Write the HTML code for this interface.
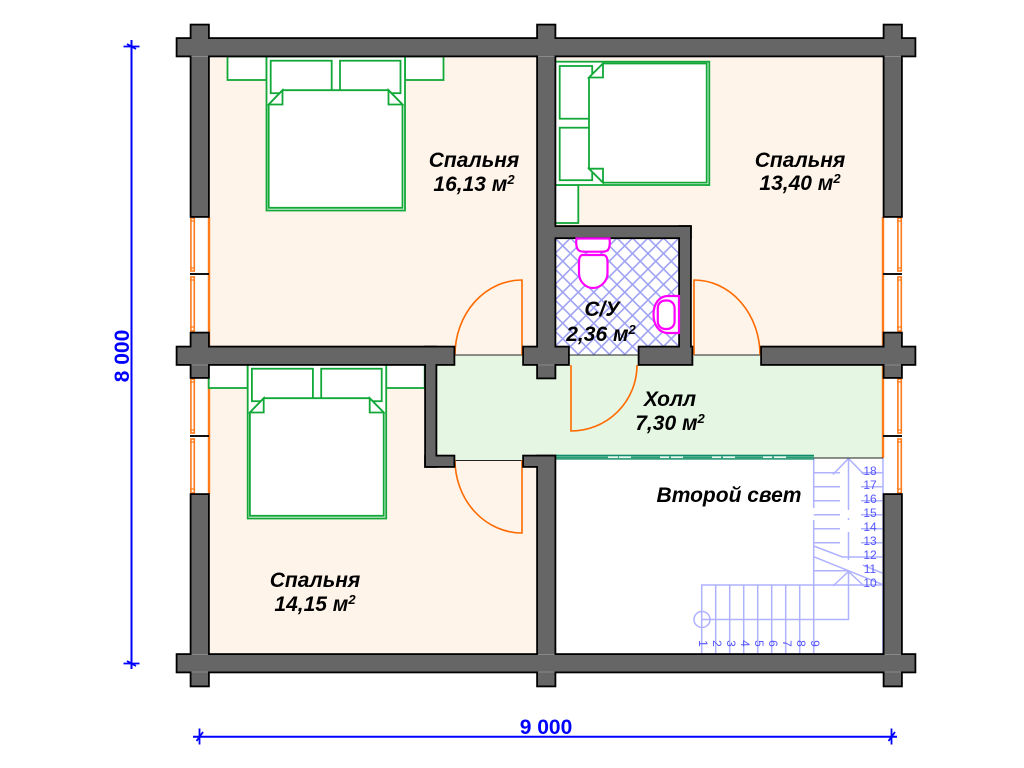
<!DOCTYPE html>
<html>
<head>
<meta charset="utf-8">
<style>
html,body{margin:0;padding:0;background:#fff;width:1024px;height:768px;overflow:hidden}
svg{display:block}
text{font-family:"Liberation Sans",sans-serif}
.lbl{font-size:21px;font-weight:bold;font-style:italic;fill:#000;text-anchor:middle}
.sup{font-size:13px}
.dim{font-size:21px;font-weight:bold;fill:#0000ff;text-anchor:middle}
.n{font-size:12px;fill:#5555ff;text-anchor:middle}
.bed{fill:#fff;stroke:#12a838;stroke-width:1.8}
.door{fill:none;stroke:#ff6a00;stroke-width:1.6}
.win{fill:#fff;stroke:#ff7a1a;stroke-width:1.6}
.st{fill:none;stroke:#aeb2ff;stroke-width:1.5}
</style>
</head>
<body>
<svg width="1024" height="768" viewBox="0 0 1024 768" xmlns="http://www.w3.org/2000/svg">
<defs>
<pattern id="h" width="15.5" height="15.5" patternUnits="userSpaceOnUse" patternTransform="translate(555 238)">
<rect width="15.5" height="15.5" fill="#fff"/>
<path d="M-1 -1L16.5 16.5M-1 16.5L16.5 -1" stroke="#a0a3f4" stroke-width="1.6"/>
</pattern>
<g id="bedv">
<rect class="bed" x="227.5" y="56.5" width="39" height="23.5"/>
<rect class="bed" x="405" y="56.5" width="38.5" height="23.5"/>
<rect class="bed" x="266.5" y="56.5" width="138.5" height="154"/>
<rect class="bed" x="270.7" y="60.7" width="61" height="32.5"/>
<rect class="bed" x="340" y="60.7" width="60.5" height="32.5"/>
<path class="bed" d="M268.7 104.5L282.5 90.2H388.5L402.5 104.5V207.8H268.7Z"/>
<path class="bed" d="M268.7 104.5L282.5 90.2V104.5Z"/>
<path class="bed" d="M402.5 104.5L388.5 90.2V104.5Z"/>
</g>
<g id="walls">
<rect x="177.5" y="39" width="737" height="16.5"/>
<rect x="177.5" y="655" width="737" height="16.5"/>
<rect x="191.5" y="25.5" width="16.5" height="190.5"/>
<rect x="191.5" y="333.5" width="16.5" height="43.5"/>
<rect x="191.5" y="495" width="16.5" height="190.5"/>
<rect x="177.5" y="347.5" width="276" height="16.5"/>
<rect x="538" y="25.5" width="16.5" height="352"/>
<rect x="524" y="347.5" width="44" height="16.5"/>
<rect x="538" y="456.5" width="16.5" height="229"/>
<rect x="524" y="456.5" width="30" height="9.5"/>
<rect x="884.5" y="25.5" width="16.5" height="190.5"/>
<rect x="884.5" y="333.5" width="16.5" height="43.5"/>
<rect x="884.5" y="495" width="16.5" height="190.5"/>
<rect x="762" y="347.5" width="152.5" height="16.5"/>
<rect x="550" y="227" width="140" height="10.3"/>
<rect x="680" y="227" width="10" height="125"/>
<rect x="639.5" y="347.5" width="52" height="16.5"/>
<rect x="426" y="347.5" width="9.5" height="118.5"/>
<rect x="426" y="456.5" width="27.5" height="9.5"/>
</g>
</defs>

<!-- room fills -->
<rect x="209" y="56" width="327" height="299" fill="#fff4e9"/>
<rect x="555" y="56" width="328" height="299" fill="#fff4e9"/>
<rect x="209" y="365" width="327" height="289" fill="#fff4e9"/>
<rect x="436" y="355" width="447" height="103" fill="#e5f6e3"/>
<rect x="436" y="455" width="100" height="5.5" fill="#e5f6e3"/>
<rect x="555" y="238" width="124" height="117" fill="url(#h)"/>
<rect x="555" y="458" width="328" height="196" fill="#fff"/>

<!-- window openings -->
<g>
<rect x="190" y="217" width="19" height="115" fill="#fff"/>
<rect x="190" y="378" width="19" height="116" fill="#fff"/>
<rect x="883" y="217" width="19" height="115" fill="#fff"/>
<rect x="883" y="378" width="19" height="116" fill="#fff"/>
<path d="M209 217V346M209 365V494M883 217V346M883 365V458" stroke="#ff7a1a" stroke-width="2.4" fill="none"/>
<rect class="win" x="190.9" y="218" width="3.4" height="53"/><rect class="win" x="190.9" y="277" width="3.4" height="54"/>
<rect class="win" x="190.9" y="379" width="3.4" height="54"/><rect class="win" x="190.9" y="439" width="3.4" height="54"/>
<rect class="win" x="897.9" y="218" width="3.4" height="53"/><rect class="win" x="897.9" y="277" width="3.4" height="54"/>
<rect class="win" x="897.9" y="379" width="3.4" height="54"/><rect class="win" x="897.9" y="439" width="3.4" height="54"/>
<path d="M190 221H195M190 268H195M190 280H195M190 327H195M190 382H195M190 430H195M190 442H195M190 489H195M897 221H902M897 268H902M897 280H902M897 327H902M897 382H902M897 430H902M897 442H902M897 489H902" stroke="#ff7a1a" stroke-width="1.2"/>
<path d="M190 274H209M190 436H209M883 274H902M883 436H902" stroke="#111" stroke-width="2"/>
</g>

<!-- stairs -->
<g class="st">
<path d="M701.7 585H883V654H701.7Z"/>
<path d="M715.7 585V654M729.7 585V654M743.7 585V654M757.7 585V654M771.7 585V654M785.7 585V654M799.7 585V654M813.7 458V508M813.7 520V654"/>
<circle cx="702" cy="619.5" r="8"/>
<path d="M702 619.5H848.5V571.5M833 586L848.5 571.5L864 586"/>
<path d="M833 474.5L848.5 458.5L864 474.5M848.5 458.5V510M848.5 518V520M848.5 532V560"/>
<path d="M813.7 472.7H840M813.7 486.7H840M813.7 500.7H840M813.7 514.7H840M813.7 528.7H840M813.7 542.7H840M813.7 570.7H848"/>
<path d="M861 472.7H883M861 486.7H883M861 500.7H883M861 514.7H883M861 528.7H883M861 542.7H883"/>
<path d="M813.7 546L842.5 557H883M813.7 556.7L883 584.7M862.7 565L883 573.3"/>
<path d="M883 458V654"/>
</g>
<g>
<text class="n" x="870" y="475">18</text><text class="n" x="870" y="489">17</text><text class="n" x="870" y="503">16</text>
<text class="n" x="870" y="517">15</text><text class="n" x="870" y="531">14</text><text class="n" x="870" y="545">13</text>
<text class="n" x="870" y="559">12</text><text class="n" x="870" y="573">11</text><text class="n" x="870" y="587">10</text>
<text class="n" transform="translate(699 643.5) rotate(90)">1</text>
<text class="n" transform="translate(713 643.5) rotate(90)">2</text>
<text class="n" transform="translate(727 643.5) rotate(90)">3</text>
<text class="n" transform="translate(741 643.5) rotate(90)">4</text>
<text class="n" transform="translate(755 643.5) rotate(90)">5</text>
<text class="n" transform="translate(769 643.5) rotate(90)">6</text>
<text class="n" transform="translate(783 643.5) rotate(90)">7</text>
<text class="n" transform="translate(797 643.5) rotate(90)">8</text>
<text class="n" transform="translate(811 643.5) rotate(90)">9</text>
</g>

<!-- beds -->
<use href="#bedv"/>
<use href="#bedv" transform="translate(-18.8 308)"/>
<rect class="bed" x="555" y="185" width="23.3" height="38"/>
<rect class="bed" x="555" y="61.7" width="154.3" height="123.3"/>
<rect class="bed" x="559.7" y="66" width="32.5" height="52.7"/>
<rect class="bed" x="559.7" y="127.7" width="32.5" height="52.5"/>
<path class="bed" d="M589 77.5L603 63.5H706.7V182.6H603L589 168.7Z"/>
<path class="bed" d="M589 77.5L603 63.5V77.5Z"/>
<path class="bed" d="M589 168.7H603V182.6Z"/>

<!-- sills and doors -->
<path d="M455 355H522M569 355H638M694 355H760M455 460.5H522M814 458H883" stroke="#222" stroke-width="1.1"/>
<path class="door" d="M522 355V280A67 75 0 0 0 455 355"/>
<path class="door" d="M522 460V533A67 73 0 0 1 455 460"/>
<path class="door" d="M571 365V431A66 66 0 0 0 637 365"/>
<path class="door" d="M694 355V280A66 75 0 0 1 760 355"/>

<!-- glass partition -->
<rect x="555" y="454.5" width="259" height="5" fill="#7cc8a6"/>
<path d="M555 455.5H814M555 459H814" stroke="#0f8a68" stroke-width="1.2"/>
<path d="M555 457.2H814" stroke="#0f8a68" stroke-width="1"/>
<path d="M608 457.2H618M619 457.2H631M660 457.2H669M671 457.2H683M712 457.2H721M723 457.2H735M763 457.2H772M774 457.2H786" stroke="#fff" stroke-width="1.4"/>

<!-- walls -->
<use href="#walls" fill="#000" stroke="#000" stroke-width="3.6"/>
<use href="#walls" fill="#666"/>
<path d="M191.5 56.5H208M538 56.5H554.5M884.5 56.5H901M191.5 654.5H208M538 654.5H554.5M884.5 654.5H901M191.5 672H208M538 672H554.5M884.5 672H901M191.5 365H208M884.5 365H901M538 365H554.5" stroke="#8a8a8a" stroke-width="1"/>

<!-- bathroom fixtures -->
<g fill="#fff" stroke="#ff00ff" stroke-width="2.2">
<path d="M576.5 238.5H609.5Q610.5 246 608 250Q606 251.7 602 251.7H584Q579 251.7 577.5 249Q575.5 245 576.5 238.5Z"/>
<path d="M582 255H604Q607.5 256 607.5 262V273C607.5 282 600 288 593 288C586 288 579 282 579 273V262Q579 256 582 255Z"/>
<path d="M679 296H668C659 296 653.5 304 653.5 314.5C653.5 325 659 333 668 333H679Z"/>
<rect x="657.8" y="300.5" width="16.8" height="28.5" rx="7.5"/>
</g>

<!-- room labels -->
<text class="lbl" x="474" y="167">Спальня</text>
<text class="lbl" x="474" y="191">16,13 м<tspan class="sup" dy="-7">2</tspan></text>
<text class="lbl" x="800" y="167">Спальня</text>
<text class="lbl" x="800" y="190">13,40 м<tspan class="sup" dy="-7">2</tspan></text>
<text class="lbl" x="315" y="587">Спальня</text>
<text class="lbl" x="315" y="611">14,15 м<tspan class="sup" dy="-7">2</tspan></text>
<text class="lbl" x="602" y="316">С/У</text>
<text class="lbl" x="601" y="341">2,36 м<tspan class="sup" dy="-7">2</tspan></text>
<text class="lbl" x="670" y="406">Холл</text>
<text class="lbl" x="670" y="430">7,30 м<tspan class="sup" dy="-7">2</tspan></text>
<text class="lbl" x="729" y="502">Второй свет</text>

<!-- dimensions -->
<g stroke="#0000ff" fill="none">
<path d="M131.5 40V669" stroke-width="2"/>
<path d="M123.5 46.5H139.5M123.5 663.5H139.5" stroke-width="1.8"/>
<path d="M127 44L136 49M127 661L136 666" stroke-width="1.8"/>
<path d="M193 736.7H897" stroke-width="2"/>
<path d="M199.5 728.5V744.5M891.5 728.5V744.5" stroke-width="1.8"/>
<path d="M196.5 741L203 732M888.5 741L895 732" stroke-width="1.8"/>
</g>
<text class="dim" x="546" y="734">9 000</text>
<text class="dim" transform="translate(129 356) rotate(-90)">8 000</text>
</svg>
</body>
</html>
